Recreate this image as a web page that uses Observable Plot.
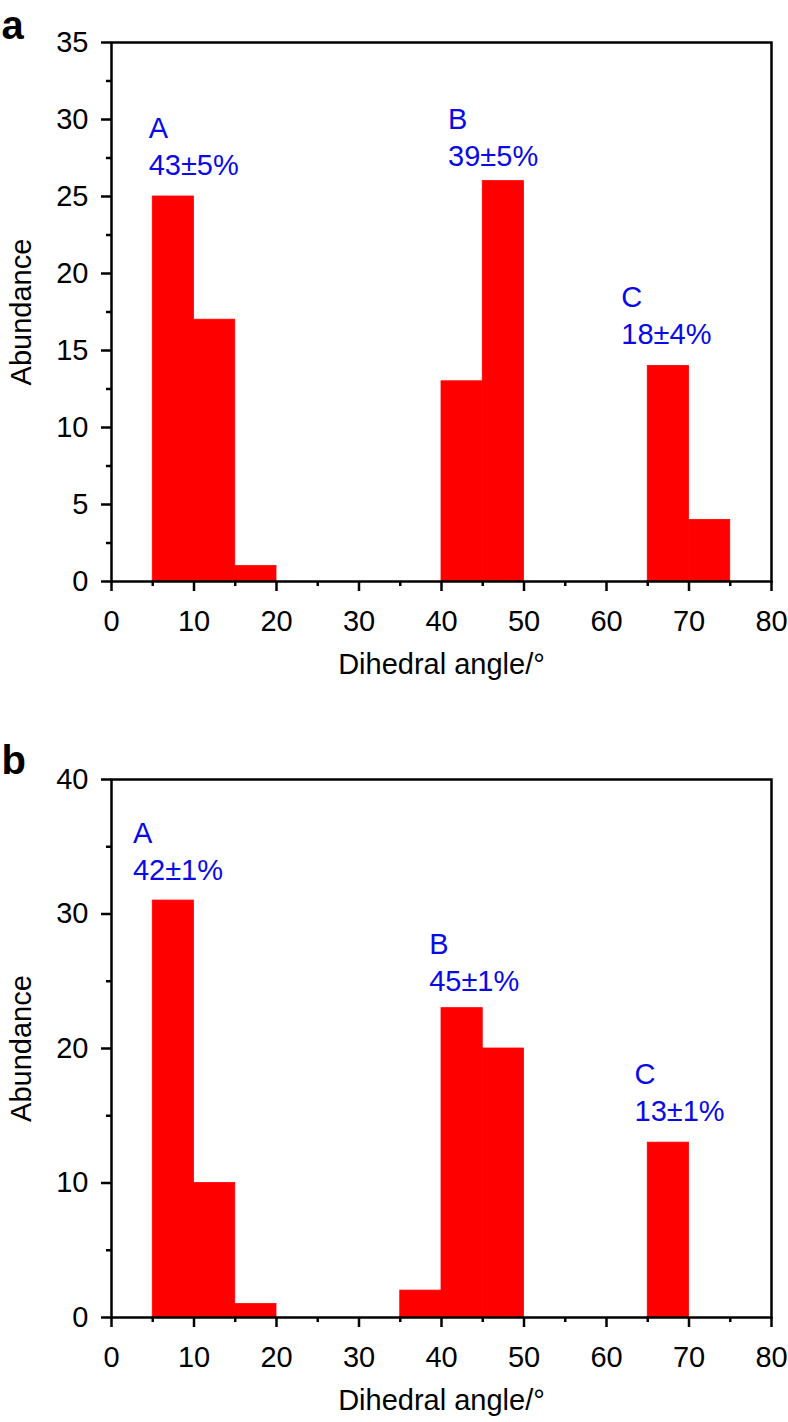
<!DOCTYPE html>
<html><head><meta charset="utf-8">
<script src="https://cdn.jsdelivr.net/npm/d3@7"></script>
<script src="https://cdn.jsdelivr.net/npm/@observablehq/plot@0.6"></script>
<style>body{margin:0;background:#fff;} svg{display:block;}</style>
</head><body><div id="chart"></div>
<script>
// ---- data ----
const binWidth = 5;
const binStartsA = [5, 10, 15, 40, 45, 65, 70];
const countsA    = [25, 17, 1, 13, 26, 14, 4];
const binStartsB = [5, 10, 15, 35, 40, 45, 65];
const countsB    = [31, 10, 1, 2, 23, 20, 13];
const groupNames = ["A", "B", "C"];
const percentsA  = ["43±5%", "39±5%", "18±4%"];
const percentsB  = ["42±1%", "45±1%", "13±1%"];
// annotation anchor points in data units (angle, abundance of the percent line baseline)
const annAngleA = [4.5, 40.8, 61.8];
const annAbundA = [26.4, 27.0, 15.4];
const annAngleB = [2.6, 38.5, 63.4];
const annAbundB = [32.5, 24.3, 14.6];
const xTicks  = [0, 10, 20, 30, 40, 50, 60, 70, 80];
const xMinor  = [5, 15, 25, 35, 45, 55, 65, 75];
const yTicksA = [0, 5, 10, 15, 20, 25, 30, 35];
const yMinorA = [2.5, 7.5, 12.5, 17.5, 22.5, 27.5, 32.5];
const yTicksB = [0, 10, 20, 30, 40];
const yMinorB = [5, 15, 25, 35];
const xLabel = "Dihedral angle/°";
const yLabel = "Abundance";

const FONT = "'Liberation Sans', Arial, Helvetica, sans-serif";
const FS = 29;

function panel({starts, counts, yMax, yTicks, yMinor, names, pcts, annX, annY, letter, height, marginTop, marginBottom}) {
  const bins = starts.map((s, i) => ({x1: s, x2: s + binWidth, n: counts[i]}));
  const ann = names.map((nm, i) => ({x: annX[i], y: annY[i], t: nm + "\n" + pcts[i]}));
  return Plot.plot({
    width: 788, height, marginLeft: 111, marginRight: 17, marginTop, marginBottom,
    x: {domain: [0, 80]},
    y: {domain: [0, yMax]},
    style: {fontFamily: FONT, fontSize: FS + "px", background: "white", color: "black"},
    marks: [
      Plot.rectY(bins, {x1: "x1", x2: "x2", y: "n", fill: "#ff0000", stroke: "#ff0000", strokeWidth: 0.8, inset: 0}),
      Plot.frame({stroke: "black", strokeWidth: 2.5}),
      Plot.axisX({ticks: xTicks, tickSize: 10, tickPadding: 19, fontSize: FS, label: null, strokeWidth: 2.5}),
      Plot.axisX({ticks: xMinor, tickSize: 5, text: null, label: null, strokeWidth: 2.5}),
      Plot.axisY({ticks: yTicks, tickSize: 10, tickPadding: 13, fontSize: FS, label: null, strokeWidth: 2.5}),
      Plot.axisY({ticks: yMinor, tickSize: 5, text: null, label: null, strokeWidth: 2.5}),
      Plot.text(ann, {x: "x", y: "y", text: "t", textAnchor: "start", lineAnchor: "bottom", lineHeight: 1.28, fill: "#0a0ae6", fontSize: FS}),
      Plot.text([xLabel], {frameAnchor: "bottom", dy: 92, textAnchor: "middle", lineAnchor: "bottom", fontSize: FS}),
      Plot.text([yLabel], {frameAnchor: "left", dx: -81, rotate: -90, textAnchor: "middle", lineAnchor: "bottom", fontSize: FS}),
      Plot.text([letter], {frameAnchor: "top-left", dx: -110, dy: letter === "a" ? -4 : -6, textAnchor: "start", lineAnchor: "bottom", fontWeight: "bold", fontSize: 40})
    ]
  });
}

const root = document.getElementById("chart");
root.appendChild(panel({
  starts: binStartsA, counts: countsA, yMax: 35, yTicks: yTicksA, yMinor: yMinorA,
  names: groupNames, pcts: percentsA, annX: annAngleA, annY: annAbundA,
  letter: "a", height: 700, marginTop: 42, marginBottom: 119
}));
root.appendChild(panel({
  starts: binStartsB, counts: countsB, yMax: 40, yTicks: yTicksB, yMinor: yMinorB,
  names: groupNames, pcts: percentsB, annX: annAngleB, annY: annAbundB,
  letter: "b", height: 722, marginTop: 79, marginBottom: 105
}));
</script>
</body></html>
